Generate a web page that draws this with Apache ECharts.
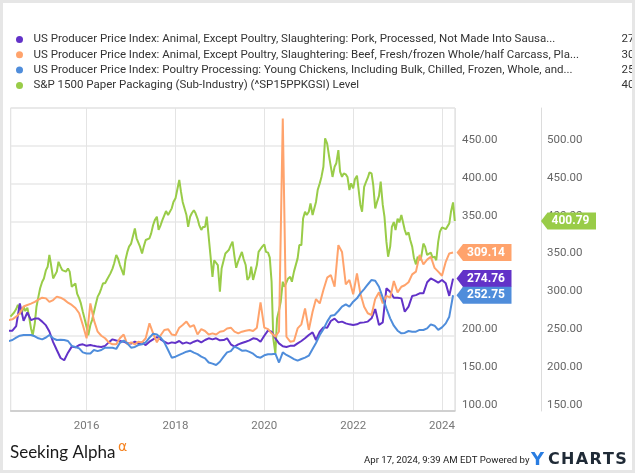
<!DOCTYPE html>
<html><head><meta charset="utf-8">
<script src="https://cdn.jsdelivr.net/npm/echarts@6/dist/echarts.min.js"></script>
<style>
html,body{margin:0;padding:0;background:#e6e6e6;width:635px;height:473px;overflow:hidden}
#c{position:absolute;left:3px;top:3px;width:629px;height:467px;background:#fff}
</style></head><body><div id="c"></div>
<script>
// ---------- DATA ----------
const seriesNames = [
  'US Producer Price Index: Animal, Except Poultry, Slaughtering: Pork, Processed, Not Made Into Sausa...',
  'US Producer Price Index: Animal, Except Poultry, Slaughtering: Beef, Fresh/frozen Whole/half Carcass, Pla...',
  'US Producer Price Index: Poultry Processing: Young Chickens, Including Bulk, Chilled, Frozen, Whole, and...',
  'S&P 1500 Paper Packaging (Sub-Industry) (^SP15PPKGSI) Level'
];
const seriesColors = ['#6232c8', '#ffa36c', '#4f8ddb', '#99cc48'];
const xAxisStart = '2014-04-17';
const xAxisEnd = '2024-04-17';
const xTickYears = [2016, 2018, 2020, 2022, 2024];
const ppiFirstMonth = '2014-04';   // monthly, Apr 2014 .. Apr 2024
const packagingFirstDate = '2014-04-15'; // twice a month, Apr 2014 .. Apr 2024

const porkValues = [
  206, 206, 212, 242, 219, 230, 220, 222, 222,
  218, 213, 205, 191, 180.5, 170, 167, 177, 185, 184, 187, 188,
  186, 187, 186, 185, 184.5, 186, 190.6, 194.6, 193, 192.4, 191.5, 189.3,
  189, 191.5, 189, 190.6, 187, 191.5, 194.6, 197.7, 194.6, 191.5, 189, 190.6,
  189.8, 192.4, 189, 190.6, 189, 191.5, 193.3, 190.6, 193.7, 196, 194.6, 196,
  193.3, 193.7, 196, 188, 185, 188, 189.8, 191.5, 193.3, 196, 195, 191.5,
  199.4, 206.5, 204.7, 196, 189.3, 185.4, 184.5, 186, 186, 189.3, 192.4, 196,
  200.3, 203.8, 193.7, 204.7, 210.4, 210, 218.8, 222, 217, 218, 215.7, 214.4,
  213.5, 214.4, 216.6, 217, 218, 222.3, 234.6, 213.5, 217, 262, 257.5, 249.6,
  249.6, 248.7, 231, 237.8, 251.8, 253, 255.3, 255.3, 270, 275, 272.5, 269.4,
  273, 268.5, 252, 274.76
];
const beefValues = [
  220, 221, 224.5, 229, 238, 240, 241.7, 244, 247,
  249.6, 248.7, 244, 246.5, 251, 249.6, 247, 243, 240, 236, 229, 213.5,
  196, 242, 220, 204.7, 199.4, 196, 190.6, 188, 188, 196, 201, 188,
  190.6, 188, 191.5, 190.6, 196, 215.7, 202.5, 190.6, 200, 207, 208, 201,
  200, 210, 213.5, 218, 211, 213.5, 201, 208, 205.6, 201, 202.5, 201,
  204.7, 205.6, 209, 210, 204.7, 202.5, 204.7, 206, 207, 205.6, 210, 243.4,
  210, 208, 202.5, 198, 205, 486, 198, 191.5, 192.4, 209, 214.4, 235.5,
  207, 231, 247.8, 242, 259.7, 276, 279.5, 264, 319, 310, 267, 273,
  254, 281.7, 255, 237.7, 229, 226.7, 248, 256.6, 242, 252, 249.6, 271.6,
  256.6, 264, 266, 270, 280.4, 284, 306, 293.6, 299.8, 303.7, 289, 284,
  278.6, 297, 308, 309.14
];
const chickenValues = [
  192.4, 193.7, 196.8, 199.4, 200.3, 200.3, 200.3, 198.6, 196,
  194.6, 197, 200.3, 196, 193.7, 194, 193.7, 192.4, 186, 184.5, 182.7, 177.4,
  176, 176, 180.5, 179, 180.5, 183.6, 183.6, 183.6, 182, 190, 193, 189.3,
  183.6, 184.5, 187, 188, 190.6, 196.8, 202, 201, 196.8, 190.6, 180.5, 170.4,
  171.7, 174, 176, 178.3, 179.6, 177, 175, 171.7, 169.5, 164, 162.5, 160.7,
  165, 171.7, 177.4, 179, 185, 182.7, 179.6, 180, 178, 175.7, 171.7, 170.4,
  173.5, 174.8, 174.8, 175.7, 164, 177.4, 174, 171.3, 168.6, 166.4, 168.6, 170.4,
  173, 181.8, 189.8, 200.3, 208, 218, 225.8, 226.7, 232, 237.7, 240.8, 237.7,
  244.3, 248.7, 255.3, 261, 267, 273, 272, 264, 249.6, 235.5, 222.3, 212.6,
  206, 202.5, 203, 205.6, 204.7, 204.7, 207, 207, 209, 214.4, 212.6, 207,
  210.4, 215.7, 224.5, 252.75
];
const packagingValues = [
  274.5, 276.7, 280, 284.6, 290, 284.6, 277.6, 287.7, 282, 286.4,
  274.5, 259, 250, 265.7, 287.7, 301, 312, 320.7, 325, 336,
  340.5, 356, 342.7, 325, 323, 334, 347, 340.5, 336, 338,
  334, 338, 334, 314, 316, 318.5, 305, 298.7, 292, 281,
  272, 261, 250, 263.5, 270, 272, 290, 301, 305, 312,
  318.5, 318.5, 323, 325, 331.7, 338, 345, 356, 351.5, 342.7,
  342.7, 329.5, 349, 360, 367, 371, 380, 391, 378, 380,
  367, 358, 367, 375.7, 375.7, 378, 384.5, 395.5, 402, 406.5,
  389, 395.5, 402, 404, 414, 408.7, 406.5, 417.5, 426, 430.7,
  441.7, 455, 439.5, 426, 424, 408.7, 393, 406.5, 411, 415,
  411, 404, 395.5, 389, 393, 393, 406.5, 404, 356, 327,
  349, 351.5, 342.7, 307.5, 338, 349, 358, 358, 362.5, 369,
  373.5, 353.7, 339, 348, 353.7, 360, 350.6, 342.7, 323, 327,
  340.5, 323, 320.7, 342.7, 360, 363.8, 367, 370, 360, 359,
  352.4, 320.7, 246, 226, 272, 283, 294, 320.7, 314, 312.7,
  325, 327, 320.7, 334, 336, 351.5, 369, 369, 404, 413,
  408.7, 413, 424, 408.7, 408.7, 426, 441.7, 450.5, 459, 472.5,
  510, 503, 488, 472.5, 459, 472.5, 477, 494.5, 466, 459,
  463.7, 462.4, 459, 441.7, 450.5, 444, 456, 460.6, 441.7, 422,
  413, 446, 451.8, 458, 465, 463.7, 448, 417.5, 425.4, 434,
  452.7, 422, 406.5, 373.5, 353.7, 367, 393, 399.5, 389, 404,
  399, 408.7, 411, 389, 382.5, 385.8, 375.7, 367, 352.4, 343.6,
  353.7, 349, 353.7, 371, 367, 356, 353.7, 359, 352.4, 353.7,
  349, 373.5, 386.7, 392.4, 390, 390, 389, 397.7, 413, 425.4,
  400.79
];
const leftAxisTicks = [100, 150, 200, 250, 300, 350, 400, 450];
const rightAxisTicks = [150, 200, 250, 300, 350, 400, 450, 500];

// ---------- BUILD ----------
function pad(n){ return (n < 10 ? '0' : '') + n; }
function monthlyDates(first, count){
  const [y0, m0] = first.split('-').map(Number);
  const out = [];
  for (let i = 0; i < count; i++) {
    const t = (m0 - 1) + i;
    out.push((y0 + Math.floor(t / 12)) + '-' + pad(t % 12 + 1) + '-01');
  }
  return out;
}
function halfMonthDates(first, count){
  const [y0, m0] = first.split('-').map(Number);
  const out = [];
  for (let k = 0; k < count; k++) {
    if (k % 2 === 0) {
      const t = (m0 - 1) + k / 2;
      out.push((y0 + Math.floor(t / 12)) + '-' + pad(t % 12 + 1) + '-15');
    } else {
      const t = (m0 - 1) + (k + 1) / 2;
      out.push((y0 + Math.floor(t / 12)) + '-' + pad(t % 12 + 1) + '-01');
    }
  }
  return out;
}
function toTs(s){ const [y,m,d] = s.split('-').map(Number); return new Date(y, m - 1, d).getTime(); }
function zip(dates, vals){ return vals.map((v, i) => [toTs(dates[i]), v]); }

const ppiDates = monthlyDates(ppiFirstMonth, porkValues.length);
const pkgDates = halfMonthDates(packagingFirstDate, packagingValues.length);
const valueSets = [porkValues, beefValues, chickenValues, packagingValues];
const dateSets = [ppiDates, ppiDates, ppiDates, pkgDates];
const axisIndex = [0, 0, 0, 1];
const xMin = toTs(xAxisStart), xMax = toTs(xAxisEnd);
const lastVals = valueSets.map(v => v[v.length - 1]);
const tagOffsets = [29, 29, 29, 113.5];

const FONT = 'Roboto';
const series = [];
valueSets.forEach((vals, i) => {
  series.push({
    name: seriesNames[i], type: 'line', yAxisIndex: axisIndex[i],
    data: zip(dateSets[i], vals), showSymbol: false, symbol: 'none',
    lineStyle: { color: seriesColors[i], width: 2 }, itemStyle: { color: seriesColors[i] },
    z: i === 3 ? 2 : 3, silent: true
  });
});
// value tags at the right axes
valueSets.forEach((vals, i) => {
  series.push({
    name: 'tag' + i, type: 'scatter', yAxisIndex: axisIndex[i], clip: false, silent: true,
    data: [[xMax, lastVals[i]]],
    symbol: 'path://M0,8.5L6.5,0H55V17H6.5Z', symbolSize: [55, 17], symbolOffset: [tagOffsets[i], 0],
    itemStyle: { color: seriesColors[i], opacity: 1 },
    label: { show: true, position: 'inside', offset: [2, 0], formatter: p => p.value[1].toFixed(2),
      color: '#fff', fontWeight: 'bold', fontSize: 12, fontFamily: FONT },
    z: 10
  });
});

const YC = 'CHARTS'.split('');
const chart = echarts.init(document.getElementById('c'), null, { renderer: 'canvas' });
chart.setOption({
  animation: false,
  backgroundColor: '#fff',
  textStyle: { fontFamily: FONT },
  legend: {
    data: seriesNames, orient: 'vertical', left: 8, top: 25.5, itemGap: 3.3, padding: 5,
    itemWidth: 18, itemHeight: 7, icon: 'circle', selectedMode: false,
    formatter: name => {
      const i = seriesNames.indexOf(name);
      return '{n|' + name + '}{v|' + lastVals[i].toFixed(2) + '}';
    },
    textStyle: {
      fontFamily: FONT, fontSize: 11.5, color: '#333',
      rich: {
        n: { width: 588, fontSize: 11.5, color: '#333', fontFamily: FONT },
        v: { fontSize: 11.5, color: '#333', fontFamily: FONT }
      }
    }
  },
  grid: { left: 7.7, top: 105, right: 177, bottom: 59, show: true, borderColor: '#d6d6d6', borderWidth: 1, containLabel: false },
  xAxis: {
    type: 'time', min: xMin, max: xMax, splitNumber: 5,
    minInterval: 730 * 86400000, maxInterval: 731 * 86400000,
    axisLine: { show: true, lineStyle: { color: '#c8c8c8', width: 1.5 } },
    axisTick: { show: false },
    splitLine: { show: true, lineStyle: { color: '#e4e4e4', width: 1 } },
    axisLabel: { color: '#777', fontSize: 11.5, fontFamily: FONT, margin: 9,
      formatter: v => { const y = new Date(v).getFullYear(); return xTickYears.indexOf(y) >= 0 ? String(y) : ''; } }
  },
  yAxis: [
    { type: 'value', position: 'right', min: leftAxisTicks[0], max: 500, interval: 50,
      axisLine: { show: false }, axisTick: { show: false },
      splitLine: { show: true, lineStyle: { color: '#e8e8e8', width: 1.5 } },
      axisLabel: { showMaxLabel: false, color: '#666', fontSize: 11.5, fontFamily: FONT, margin: 7,
        verticalAlign: 'bottom', formatter: v => v.toFixed(2) } },
    { type: 'value', position: 'right', offset: 86, min: rightAxisTicks[0], max: 550, interval: 50,
      axisLine: { show: true, lineStyle: { color: '#dcdcdc', width: 1 } }, axisTick: { show: false },
      splitLine: { show: false },
      axisLabel: { showMaxLabel: false, color: '#666', fontSize: 11.5, fontFamily: FONT, margin: 6,
        verticalAlign: 'bottom', formatter: v => v.toFixed(2) } }
  ],
  series: series,
  graphic: [
    { type: 'text', left: 7, top: 441, style: { text: 'Seeking Alpha', fontFamily: 'Lato', fontSize: 17, fill: '#1a1a1a' } },
    { type: 'text', left: 115, top: 437, style: { text: 'α', fontFamily: 'DejaVu Sans', fontSize: 14, fill: '#f5821f' } },
    { type: 'text', left: 361, top: 453, style: { text: 'Apr 17, 2024, 9:39 AM EDT Powered by', fontFamily: FONT, fontSize: 9.6, fill: '#222' } },
    { type: 'text', left: 528, top: 448, style: { text: '{y|Y}' + YC.map(c => '{c|' + c + '}').join(''), rich: {
        y: { fontFamily: 'DejaVu Sans', fontWeight: 'bold', fontSize: 18, fill: '#2a7de1', padding: [0, 4, 0, 0] },
        c: { fontFamily: 'DejaVu Sans', fontWeight: 'bold', fontSize: 16, fill: '#1f2a36', padding: [0, 1.3, 0, 0] } } } }
  ]
});
</script></body></html>
